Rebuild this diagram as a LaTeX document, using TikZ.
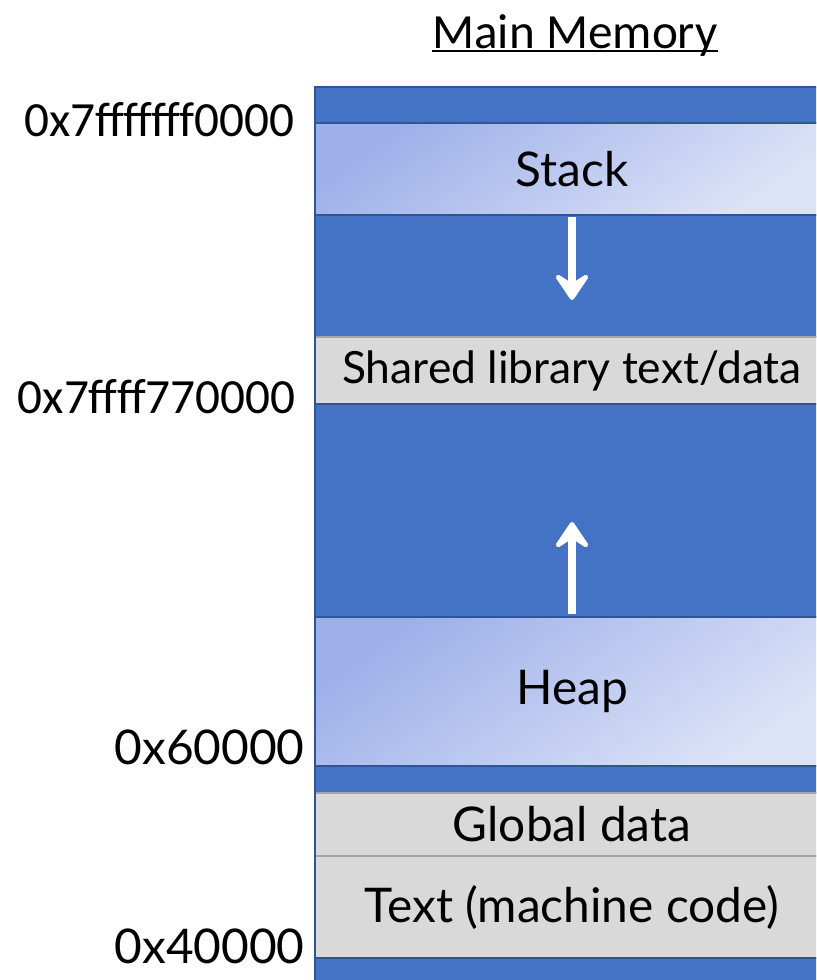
\documentclass[tikz,border=0pt]{standalone}
\usepackage{fontspec}
\setmainfont{Lato}
\newfontfamily\calfont{Carlito}
\usetikzlibrary{positioning,arrows.meta}

\definecolor{memblue}{HTML}{4472C4}
\definecolor{edgeblue}{HTML}{2F5597}
\definecolor{seggray}{HTML}{D9D9D9}
\definecolor{segedge}{HTML}{A5A5A5}
\definecolor{seglight}{HTML}{9DB0E9}
\definecolor{segpale}{HTML}{DDE3F7}

\tikzset{
  seg/.style={draw=edgeblue, line width=1.2pt, minimum width=12.85cm,
    inner sep=0pt, outer sep=0pt, font=\fontsize{34}{38}\selectfont},
  freeseg/.style={seg, fill=memblue},
  growseg/.style={seg, top color=seglight, bottom color=segpale, shading angle=35},
  fixedseg/.style={seg, draw=segedge, fill=seggray},
  addr/.style={anchor=east, inner sep=0pt},
  push/.style={white, line width=5.5pt,
    -{Stealth[length=0.82cm, width=1.1cm, inset=0.36cm, round]}}
}

\begin{document}
\begin{tikzpicture}
    \useasboundingbox (0,0) rectangle (20.4,-24.5);
    \clip (0,0) rectangle (20.4,-24.5);

    % memory column, top to bottom
    \node[freeseg, minimum height=0.9cm] (top) at (14.3,-2.625) {};
    \node[growseg, minimum height=2.3cm, below=0pt of top] (stack) {Stack};
    \node[freeseg, minimum height=3.05cm, below=0pt of stack] (free1) {};
    \node[fixedseg, minimum height=1.675cm, below=0pt of free1, font=\fontsize{31.6}{36}\selectfont] (shared) {Shared library text/data};
    \node[freeseg, minimum height=5.325cm, below=0pt of shared] (free2) {};
    \node[growseg, minimum height=3.725cm, below=0pt of free2] (heap) {Heap};
    \node[freeseg, minimum height=0.675cm, below=0pt of heap] (free3) {};
    \node[fixedseg, minimum height=1.575cm, below=0pt of free3] (global) {Global data};
    \node[fixedseg, minimum height=2.55cm, below=0pt of global] (text) {Text (machine code)};
    \node[freeseg, minimum height=0.8cm, below=0pt of text] (bottom) {};
    \draw[edgeblue, line width=1.4pt] (top.north west) -- (bottom.south west);

    % title
    \node[anchor=base, inner sep=0pt, font=\calfont\fontsize{35}{40}\selectfont] (title) at (14.375,-1.2) {Main Memory};
    \draw[line width=1.4pt] ([yshift=-0.075cm]title.base west) -- ([yshift=-0.075cm]title.base east);

    % addresses
    \node[addr, font=\calfont\fontsize{35}{40}\selectfont] (a1) at ([xshift=-0.5cm, yshift=0.08cm]stack.north west) {0x7fffffff0000};
    \node[addr, font=\calfont\fontsize{35}{40}\selectfont] (a2) at ([xshift=-0.48cm, yshift=0.18cm]shared.south west) {0x7ffff770000};
    \node[addr, font=\fontsize{34}{38}\selectfont] (a3) at ([xshift=-0.25cm, yshift=0.46cm]heap.south west) {0x60000};
    \node[addr, font=\fontsize{34}{38}\selectfont] (a4) at ([xshift=-0.25cm, yshift=0.29cm]text.south west) {0x40000};

    % growth directions
    \coordinate (sdown) at (14.3,-7.5);
    \coordinate (hup) at (14.3,-13.05);
    \draw[push] ([yshift=-0.05cm]stack.south) -- (sdown);
    \draw[push] ([yshift=0.08cm]heap.north) -- (hup);
\end{tikzpicture}
\end{document}
